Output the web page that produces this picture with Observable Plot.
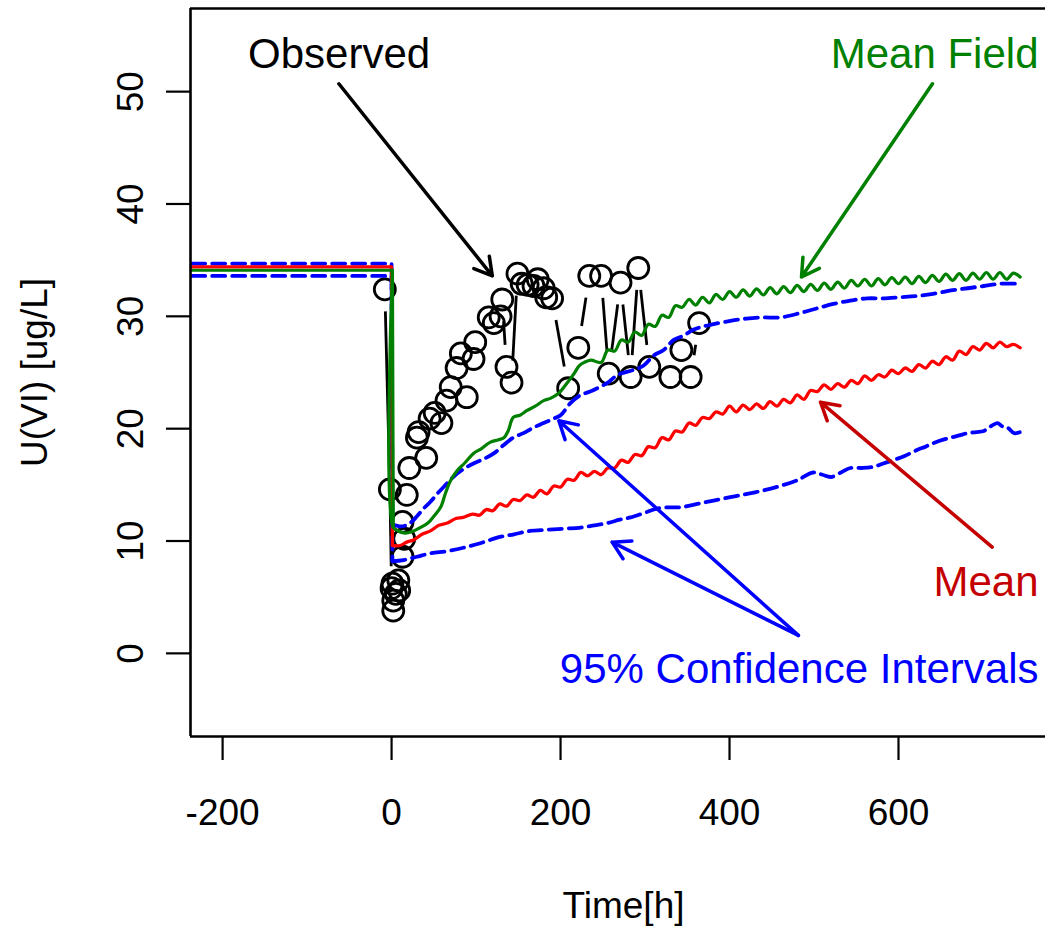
<!DOCTYPE html>
<html><head><meta charset="utf-8">
<script src="https://cdn.jsdelivr.net/npm/d3@7"></script>
<script src="https://cdn.jsdelivr.net/npm/@observablehq/plot@0.6"></script>
<style>
html,body{margin:0;padding:0;background:#fff;overflow:hidden}
#chart{width:1045px;height:926px}
</style></head><body><div id="chart"></div>
<script>
// ---- axes ----
const xDomain = [-238, 774];
const yDomain = [-7.4, 57.4];
const xTicks = [-200, 0, 200, 400, 600];
const yTicks = [0, 10, 20, 30, 40, 50];
const xLabel = "Time[h]";
const yLabel = "U(VI) [ug/L]";

// ---- observed (time order) ----
const obsTime  = [-8, -2, 0, 1, 2, 2, 5, 8, 9, 13, 15, 13, 18, 21, 30, 32, 41, 45, 51, 59, 65, 70, 77, 82, 89, 97, 99, 115, 121, 129, 131, 136, 142, 149, 154, 161, 168, 173, 180, 183, 190, 209, 221, 234, 248, 257, 271, 283, 292, 305, 330, 343, 354, 364];
const obsValue = [32.4, 14.6, 5.8, 6.2, 4.7, 3.8, 5.3, 6.5, 5.6, 8.6, 10.2, 11.7, 14.1, 16.5, 19.2, 19.7, 17.4, 20.9, 21.4, 20.5, 22.5, 23.7, 25.4, 26.7, 22.8, 26.2, 27.7, 29.9, 29.4, 30.0, 31.5, 25.5, 24.1, 33.8, 32.9, 32.8, 32.7, 33.3, 32.5, 31.7, 31.6, 23.6, 27.2, 33.6, 33.6, 24.9, 33.0, 24.6, 34.3, 25.5, 24.6, 27.0, 24.6, 29.4];

// ---- Mean Field (green) ----
const meanFieldTime = [-236, 1, 2, 8, 16, 26, 34, 43, 50, 58, 64, 70, 78, 86, 97, 106, 117, 126, 133, 138, 144, 152, 160, 170, 180, 188, 197, 205, 216, 222, 228, 236,
  248, 256, 264, 272, 280, 288, 296, 304, 312, 320, 328, 336, 344, 352, 360, 368, 376, 384, 392, 400, 408, 416, 424, 432, 440, 448, 456, 464, 472, 480, 488, 496, 504, 512, 520, 528, 536, 544, 552, 560, 568, 576, 584, 592, 600, 608, 616, 624, 632, 640, 648, 656, 664, 672, 680, 688, 696, 704, 712, 720, 728, 736, 744];
const meanFieldValue = [34.1, 34.1, 11.2, 10.9, 10.7, 10.9, 11.2, 11.6, 12.2, 13.0, 14.3, 15.4, 16.3, 16.9, 17.8, 18.2, 18.8, 19.0, 19.2, 19.8, 21.0, 21.2, 21.6, 22.0, 22.5, 22.7, 23.1, 23.8, 24.9, 25.6, 25.9, 26.1,
  25.9, 27.0, 26.9, 27.9, 27.7, 28.6, 28.3, 29.3, 29.1, 30.1, 29.9, 30.95, 30.8, 31.5, 31.0, 31.7, 31.2, 31.95, 31.5, 32.2, 31.7, 32.35, 31.8, 32.45, 31.9, 32.55, 32.0, 32.65, 32.1, 32.75, 32.2, 32.85, 32.3, 32.95, 32.4, 33.05, 32.5, 33.2, 32.7, 33.3, 32.7, 33.35, 32.8, 33.45, 32.9, 33.5, 32.9, 33.55, 33.0, 33.65, 33.1, 33.75, 33.2, 33.8, 33.2, 33.85, 33.3, 33.9, 33.3, 33.9, 33.3, 33.85, 33.5];

// ---- Mean (red) ----
const meanTime = [-236, 0, 1, 10, 18, 26, 36, 46, 56, 66, 76, 85, 96,
  104, 112, 120, 128, 136, 144, 152, 160, 168, 176, 184, 192, 200, 208, 216, 224, 232, 240, 248, 256, 264, 272, 280, 288, 296, 304, 312, 320, 328, 336, 344, 352, 360, 368, 376, 384, 392, 400, 408, 416, 424, 432, 440, 448, 456, 464, 472, 480, 488, 496, 504, 512, 520, 528, 536, 544, 552, 560, 568, 576, 584, 592, 600, 608, 616, 624, 632, 640, 648, 656, 664, 672, 680, 688, 696, 704, 712, 720, 728, 736, 744];
const meanValue = [34.4, 34.4, 9.6, 9.6, 9.9, 10.1, 10.6, 10.9, 11.4, 11.6, 12.0, 12.1, 12.4,
  12.3, 12.8, 12.7, 13.3, 13.1, 13.7, 13.6, 14.1, 13.9, 14.5, 14.2, 14.9, 14.8, 15.5, 15.4, 16.1, 15.8, 16.2, 15.9, 16.5, 16.5, 17.2, 17.0, 17.7, 17.6, 18.4, 18.3, 19.2, 19.0, 19.8, 19.7, 20.5, 20.3, 21.0, 20.9, 21.5, 21.3, 22.0, 21.5, 22.1, 21.7, 22.2, 21.8, 22.4, 22.0, 22.6, 22.3, 23.0, 22.6, 23.4, 23.3, 23.9, 23.5, 24.0, 23.7, 24.3, 24.0, 24.7, 24.3, 24.8, 24.6, 25.2, 24.9, 25.4, 25.1, 25.7, 25.4, 26.0, 25.7, 26.4, 26.1, 26.9, 26.6, 27.3, 27.0, 27.6, 27.2, 27.7, 27.3, 27.5, 27.2];

// ---- 95% CI upper (blue dashed) ----
const ciUpperTime = [-236, 0, 1, 12, 22, 30, 38, 46, 54, 64, 73, 85, 97, 109, 121, 132, 144, 156, 168, 180, 192, 200, 212, 224, 235, 246, 256, 264, 271, 285, 298, 310, 322, 334, 346, 357, 369, 381, 401, 420, 440, 460, 484, 503, 523, 543, 563, 582, 602, 621, 641, 662, 682, 701, 721, 744];
const ciUpperValue = [34.7, 34.7, 11.5, 11.3, 11.6, 12.2, 12.9, 13.5, 14.2, 15.0, 15.7, 16.4, 16.9, 17.3, 17.8, 18.5, 19.2, 19.6, 20.1, 20.5, 20.9, 21.2, 22.3, 23.0, 23.3, 23.7, 24.1, 24.6, 24.9, 25.2, 25.6, 26.5, 27.0, 27.9, 28.3, 28.8, 29.1, 29.3, 29.6, 29.8, 29.9, 29.9, 30.3, 30.7, 31.1, 31.4, 31.6, 31.6, 31.7, 31.8, 32.0, 32.3, 32.5, 32.7, 32.9, 32.9];

// ---- 95% CI lower (blue dashed) ----
const ciLowerTime = [-236, 0, 1, 14, 30, 46, 66, 85, 105, 125, 145, 164, 184, 204, 224, 240, 256, 270, 283, 299, 315, 329, 342, 362, 381, 401, 421, 440, 460, 480, 499, 510, 520, 532, 543, 557, 570, 582, 594, 608, 622, 632, 641, 652, 662, 672, 682, 692, 701, 709, 717, 723, 729, 737, 744];
const ciLowerValue = [33.6, 33.6, 8.2, 8.3, 8.6, 8.9, 9.1, 9.4, 9.8, 10.3, 10.6, 10.9, 11.0, 11.1, 11.2, 11.4, 11.6, 11.9, 12.1, 12.5, 12.9, 13.0, 13.0, 13.3, 13.6, 13.9, 14.2, 14.5, 14.9, 15.4, 16.1, 15.9, 15.7, 16.1, 16.5, 16.5, 16.6, 16.9, 17.2, 17.6, 18.1, 18.4, 18.7, 19.0, 19.2, 19.4, 19.6, 19.7, 19.8, 20.2, 20.5, 20.2, 20.1, 19.6, 19.7];

// ---- annotations ----
const annoLabel = ["Observed", "Mean Field", "Mean", "95% Confidence Intervals"];
const annoX = [-62.1, 765.7, 765.7, 765.7];
const annoY = [52.1, 52.1, 5.07, -2.67];
const annoAnchor = ["middle", "end", "end", "end"];
const annoColor = ["#000000", "#008000", "#c40000", "#0000ff"];

const arrowX1 = [-62.4, 640.2, 710.9, 481.5, 481.5];
const arrowY1 = [50.7, 50.7, 9.46, 1.6, 1.6];
const arrowX2 = [119.2, 485.2, 507.7, 198, 261];
const arrowY2 = [33.6, 33.5, 22.36, 20.7, 9.9];
const arrowColor = ["#000000", "#008000", "#c40000", "#0000ff", "#0000ff"];

// ---- tables ----
const toRows = (T, V) => T.map((t, i) => ({t, v: V[i]}));
const observed = toRows(obsTime, obsValue);
const meanField = toRows(meanFieldTime, meanFieldValue);
const mean = toRows(meanTime, meanValue);
const ciUpper = toRows(ciUpperTime, ciUpperValue);
const ciLower = toRows(ciLowerTime, ciLowerValue);
const annos = annoLabel.map((label, i) => ({label, x: annoX[i], y: annoY[i], anchor: annoAnchor[i], color: annoColor[i]}));
const arrows = arrowX1.map((x1, i) => ({x1, y1: arrowY1[i], x2: arrowX2[i], y2: arrowY2[i], color: arrowColor[i]}));

const FONT = "'Liberation Sans', Arial, Helvetica, sans-serif";
const common = {
  width: 1045, height: 926,
  marginLeft: 190, marginRight: 0, marginTop: 8, marginBottom: 190,
  x: {domain: xDomain}, y: {domain: yDomain},
  style: {fontFamily: FONT, background: "white", overflow: "visible"}
};

// probe to obtain the plot's own scales (for R-style "type=b" gaps)
const probe = Plot.plot({...common, marks: [Plot.dot(observed, {x: "t", y: "v"})]});
const sx = probe.scale("x"), sy = probe.scale("y");
const GAP = 22;
const segs = [];
for (let i = 1; i < observed.length; i++) {
  const a = observed[i - 1], b = observed[i];
  const ax = sx.apply(a.t), ay = sy.apply(a.v), bx = sx.apply(b.t), by = sy.apply(b.v);
  const dx = bx - ax, dy = by - ay, d = Math.hypot(dx, dy);
  if (d > 2 * GAP) {
    const ux = dx / d, uy = dy / d;
    segs.push({x1: sx.invert(ax + ux * GAP), y1: sy.invert(ay + uy * GAP), x2: sx.invert(bx - ux * GAP), y2: sy.invert(by - uy * GAP)});
  }
}

// a model series: straight pre-period + drop, smooth afterwards
const DROP = 2;
function modelLines(data, opts) {
  return [
    Plot.line(data, {x: "t", y: "v", filter: d => d.t <= DROP, clip: true, ...opts}),
    Plot.line(data, {x: "t", y: "v", filter: d => d.t >= 1, curve: "catmull-rom", clip: true, ...opts})
  ];
}

const chart = Plot.plot({
  ...common,
  marks: [
    Plot.axisX({ticks: xTicks, tickSize: 24, tickPadding: 38, fontSize: 37, strokeWidth: 2.2, label: null, tickFormat: d => String(d)}),
    Plot.axisY({ticks: yTicks, tickSize: 24, tickPadding: 24, tickRotate: -90, fontSize: 37, strokeWidth: 2.2, label: null, tickFormat: d => String(d)}),
    Plot.text([yLabel], {frameAnchor: "left", dx: -144, rotate: -90, lineAnchor: "bottom", textAnchor: "middle", fontSize: 37}),
    Plot.text([xLabel], {frameAnchor: "bottom", dx: 5.5, dy: 181, lineAnchor: "bottom", textAnchor: "middle", fontSize: 37}),
    // observed (points + gapped lines)
    Plot.link(segs, {x1: "x1", y1: "y1", x2: "x2", y2: "y2", stroke: "black", strokeWidth: 2.8}),
    Plot.dot(observed, {x: "t", y: "v", r: 10.5, stroke: "black", strokeWidth: 2.8, fill: "none"}),
    // model lines
    ...modelLines(ciLower, {stroke: "#0000ff", strokeWidth: 3.8, strokeDasharray: "13,7"}),
    ...modelLines(ciUpper, {stroke: "#0000ff", strokeWidth: 3.8, strokeDasharray: "13,7"}),
    ...modelLines(mean, {stroke: "#ff0000", strokeWidth: 3.3}),
    ...modelLines(meanField, {stroke: "#008000", strokeWidth: 3.2}),
    // annotations
    Plot.arrow(arrows, {x1: "x1", y1: "y1", x2: "x2", y2: "y2", stroke: "color", strokeWidth: 3.5, headLength: 8.5, headAngle: 60}),
    Plot.text(annos, {filter: d => d.anchor === "middle", x: "x", y: "y", text: "label", fill: "color", textAnchor: "middle", lineAnchor: "bottom", fontSize: 42}),
    Plot.text(annos, {filter: d => d.anchor === "end", x: "x", y: "y", text: "label", fill: "color", textAnchor: "end", lineAnchor: "bottom", fontSize: 42}),
    // box (left, top, bottom; right edge lies beyond the picture)
    Plot.ruleX([xDomain[0]], {stroke: "black", strokeWidth: 2.6}),
    Plot.ruleY([yDomain[1]], {stroke: "black", strokeWidth: 2.6}),
    Plot.ruleY([yDomain[0]], {stroke: "black", strokeWidth: 2.6})
  ]
});
document.getElementById("chart").appendChild(chart);
</script>
</body></html>
